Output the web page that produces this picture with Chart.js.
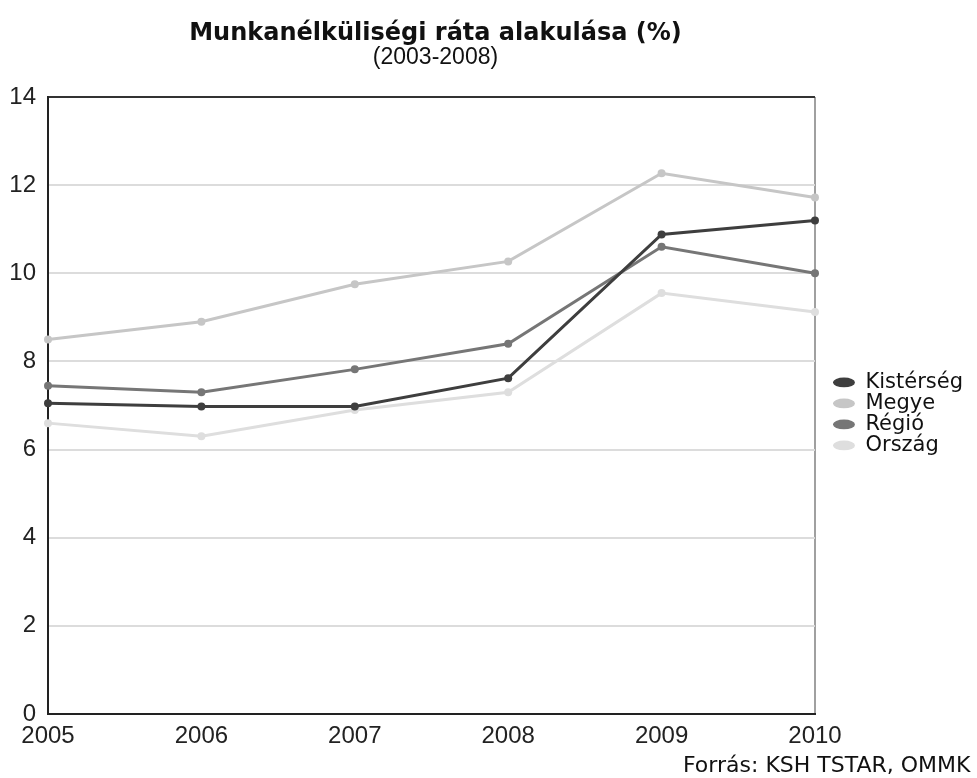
<!DOCTYPE html>
<html>
<head>
<meta charset="utf-8">
<script src="https://cdn.jsdelivr.net/npm/chart.js@4.4.1/dist/chart.umd.min.js"></script>
<style>
  html, body { margin: 0; background: #fff; }
  #wrap { width: 977px; height: 778px; }
</style>
</head>
<body>
<div id="wrap"><canvas id="myChart"></canvas></div>
<script>
const years = ['2005', '2006', '2007', '2008', '2009', '2010'];
const kisterseg = [7.05, 6.98, 6.98, 7.62, 10.88, 11.2];
const megye = [8.5, 8.9, 9.75, 10.27, 12.27, 11.72];
const regio = [7.45, 7.3, 7.82, 8.4, 10.6, 10.0];
const orszag = [6.6, 6.3, 6.9, 7.3, 9.55, 9.12];

const title = 'Munkanélküliségi ráta alakulása (%)';
const subtitle = '(2003-2008)';
const source = 'Forrás: KSH TSTAR, OMMK';

const tickFont = { family: 'Liberation Sans', size: 24 };

function series(label, values, color) {
  return {
    label: label,
    data: values,
    borderColor: color,
    backgroundColor: color,
    borderWidth: 3,
    pointRadius: 4,
    pointBorderWidth: 0,
    tension: 0
  };
}

// title, subtitle and source note
const texts = {
  id: 'texts',
  afterDraw(chart) {
    const ctx = chart.ctx;
    const cx = (chart.chartArea.left + chart.chartArea.right) / 2 + 4;
    ctx.save();
    ctx.fillStyle = '#111';
    ctx.textAlign = 'center';
    ctx.textBaseline = 'alphabetic';
    ctx.font = 'bold 24px "DejaVu Sans"';
    ctx.fillText(title, cx, 40);
    ctx.font = '23px "Liberation Sans"';
    ctx.fillText(subtitle, cx, 64);
    ctx.textAlign = 'left';
    ctx.font = '22px "DejaVu Sans"';
    ctx.fillText(source, 683, 772);
    ctx.restore();
  }
};

new Chart(document.getElementById('myChart'), {
  type: 'line',
  data: {
    labels: years,
    datasets: [
      series('Kistérség', kisterseg, '#3e3e3e'),
      series('Megye', megye, '#c6c6c6'),
      series('Régió', regio, '#767676'),
      series('Ország', orszag, '#dedede')
    ]
  },
  options: {
    responsive: true,
    maintainAspectRatio: false,
    animation: false,
    layout: { padding: { top: 97, left: 0, right: 4, bottom: 0 } },
    plugins: {
      title: { display: false },
      tooltip: { enabled: false },
      legend: {
        position: 'right',
        align: 'center',
        fullSize: false,
        // empty title only nudges the items a bit below the plot centre
        title: { display: true, text: ' ', font: { size: 4 }, padding: 6 },
        labels: {
          usePointStyle: true,
          pointStyle: 'circle',
          pointStyleWidth: 22,
          boxHeight: 7,
          padding: 0,
          color: '#111',
          font: { family: 'DejaVu Sans', size: 21 }
        }
      }
    },
    scales: {
      x: {
        offset: false,
        afterFit: s => { s.height = 64; },
        grid: {
          drawTicks: false,
          lineWidth: 2,
          color: c => (c.index === years.length - 1 ? '#a0a0a0' : 'rgba(0,0,0,0)')
        },
        border: { color: '#222', width: 2 },
        ticks: { color: '#222', font: tickFont, padding: 8, maxRotation: 0 }
      },
      y: {
        min: 0,
        max: 14,
        afterFit: s => { s.width = 48; },
        grid: {
          drawTicks: false,
          lineWidth: 2,
          color: c => (c.tick.value === 14 ? '#333' : '#dcdcdc')
        },
        border: { color: '#222', width: 2 },
        ticks: { stepSize: 2, color: '#222', font: tickFont, padding: 12 }
      },
      gap: {
        position: 'right',
        display: true,
        afterFit: s => { s.width = 18; },
        grid: { display: false },
        border: { display: false },
        ticks: { display: false }
      }
    }
  },
  plugins: [texts]
});
</script>
</body>
</html>
